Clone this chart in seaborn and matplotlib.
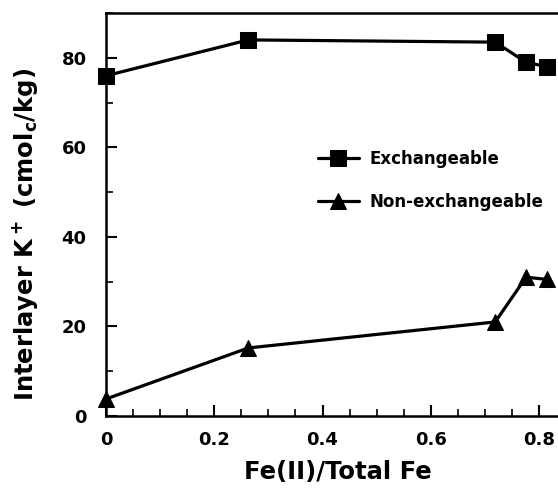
import pandas as pd
import seaborn as sns
import matplotlib.pyplot as plt
from matplotlib.ticker import MultipleLocator

# values
fe_ratio = [0.0, 0.263, 0.719, 0.776, 0.815]
exchangeable = [76.0, 84.0, 83.5, 79.0, 78.0]
non_exchangeable = [3.8, 15.2, 21.0, 31.0, 30.5]
series_names = ["Exchangeable", "Non-exchangeable"]

df = pd.concat([
    pd.DataFrame({"x": fe_ratio, "y": exchangeable, "kind": series_names[0]}),
    pd.DataFrame({"x": fe_ratio, "y": non_exchangeable, "kind": series_names[1]}),
])

sns.set_style("ticks")
plt.rcParams['font.family'] = ['DejaVu Sans']
plt.rcParams['font.weight'] = 'bold'
plt.rcParams['mathtext.default'] = 'bf'
for key in ['text.color', 'axes.labelcolor', 'xtick.color', 'ytick.color', 'axes.edgecolor']:
    plt.rcParams[key] = 'black'

fig = plt.figure(figsize=(5.58, 4.92), dpi=100)
ax = fig.add_axes([0.19, 0.1545, 0.81, 0.819])

sns.lineplot(data=df, x="x", y="y", hue="kind", style="kind",
             palette=["black", "black"], markers=["s", "^"], dashes=False,
             markersize=11, markeredgecolor="black", linewidth=2.3, ax=ax,
             clip_on=False)

ax.set_xlim(0, 0.835)
ax.set_ylim(0, 90)
ax.set_xticks([0, 0.2, 0.4, 0.6, 0.8])
ax.set_xticklabels(["0", "0.2", "0.4", "0.6", "0.8"])
ax.xaxis.set_minor_locator(MultipleLocator(0.05))
ax.yaxis.set_major_locator(MultipleLocator(20))
ax.yaxis.set_minor_locator(MultipleLocator(10))
ax.tick_params(which="major", direction="in", length=8, width=1.5, labelsize=13)
ax.tick_params(axis="x", which="major", pad=11)
ax.tick_params(axis="y", which="major", pad=14)
ax.tick_params(which="minor", direction="in", length=5, width=1.2)
for lab in ax.get_xticklabels() + ax.get_yticklabels():
    lab.set_fontweight("bold")

for s in ["left", "bottom", "top"]:
    ax.spines[s].set_linewidth(1.8)
ax.spines["right"].set_visible(False)

ax.set_xlabel("Fe(II)/Total Fe", fontsize=17.5, fontweight="bold")
ax.set_ylabel("Interlayer K$^+$ (cmol$_c$/kg)", fontsize=17.5, fontweight="bold")
ax.xaxis.set_label_coords(0.513, -0.108)
ax.yaxis.set_label_coords(-0.145, 0.45)

leg = ax.legend(loc="center left", bbox_to_anchor=(0.435, 0.585), frameon=False,
                fontsize=12, labelspacing=1.5, handlelength=2.5, handletextpad=0.6)
for t in leg.get_texts():
    t.set_fontweight("bold")

fig.savefig("out.png", dpi=100)
